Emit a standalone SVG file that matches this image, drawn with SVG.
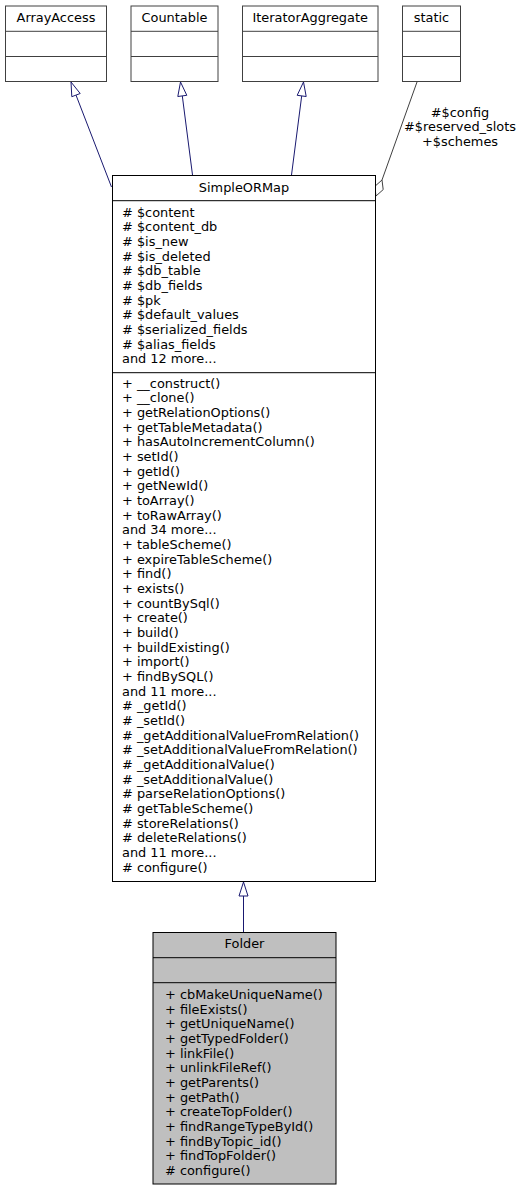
<svg xmlns="http://www.w3.org/2000/svg" width="529" height="1191" viewBox="0 0 529 1191">
<style>
text{font-family:"DejaVu Sans",sans-serif;font-size:12.9px;fill:#000}
.c{text-anchor:middle}
.box{fill:#fff;stroke:#404040;stroke-width:1}
.main{fill:#fff;stroke:#000;stroke-width:1}
.sel{fill:#bfbfbf;stroke:#000;stroke-width:1}
.sep{stroke:#000;stroke-width:1}
.sepg{stroke:#404040;stroke-width:1}
.inh{stroke:#191970;stroke-width:1;fill:none}
.head{fill:#fff;stroke:#191970;stroke-width:1}
.agg{stroke:#404040;stroke-width:1;fill:none}
</style>
<rect width="529" height="1191" fill="#fff"/>
<g id="connectors">
  <line class="inh" x1="76" y1="95.1" x2="111.5" y2="187"/>
  <polygon class="head" points="71,82 80.2,93.5 71.8,96.7"/>
  <line class="inh" x1="182.3" y1="95.9" x2="192.5" y2="175"/>
  <polygon class="head" points="180.5,82 186.8,95.3 177.8,96.5"/>
  <line class="inh" x1="301.7" y1="95.9" x2="291.5" y2="175"/>
  <polygon class="head" points="303.5,82 306.2,96.5 297.2,95.3"/>
  <line class="agg" x1="417" y1="82" x2="382" y2="180"/>
  <polygon class="agg" points="376,196 374.8,186.4 382,180 383.2,189.6" style="fill:#fff"/>
  <text class="c" x="460" y="116.7">#$config</text>
  <text class="c" x="460" y="131.4">#$reserved_slots</text>
  <text class="c" x="460" y="146.1">+$schemes</text>
  <line class="inh" x1="243.5" y1="896" x2="243.5" y2="932.5"/>
  <polygon class="head" points="243.5,882 248,896 239,896"/>
</g>
<g id="ArrayAccess">
  <rect class="box" x="5.5" y="6" width="101" height="75.5"/>
  <line class="sepg" x1="5.5" y1="31.3" x2="106.5" y2="31.3"/>
  <line class="sepg" x1="5.5" y1="56.5" x2="106.5" y2="56.5"/>
  <text class="c" x="56" y="21.7">ArrayAccess</text>
</g>
<g id="Countable">
  <rect class="box" x="131" y="6" width="87" height="75.5"/>
  <line class="sepg" x1="131" y1="31.3" x2="218" y2="31.3"/>
  <line class="sepg" x1="131" y1="56.5" x2="218" y2="56.5"/>
  <text class="c" x="174.5" y="21.7">Countable</text>
</g>
<g id="IteratorAggregate">
  <rect class="box" x="242.5" y="6" width="135.5" height="75.5"/>
  <line class="sepg" x1="242.5" y1="31.3" x2="378" y2="31.3"/>
  <line class="sepg" x1="242.5" y1="56.5" x2="378" y2="56.5"/>
  <text class="c" x="310.2" y="21.7">IteratorAggregate</text>
</g>
<g id="static">
  <rect class="box" x="402.5" y="6" width="58" height="75.5"/>
  <line class="sepg" x1="402.5" y1="31.3" x2="460.5" y2="31.3"/>
  <line class="sepg" x1="402.5" y1="56.5" x2="460.5" y2="56.5"/>
  <text class="c" x="431.5" y="21.7">static</text>
</g>
<g id="SimpleORMap">
  <rect class="main" x="112.5" y="175.5" width="263" height="706"/>
  <line class="sep" x1="112.5" y1="200.7" x2="375.5" y2="200.7"/>
  <line class="sep" x1="112.5" y1="372.7" x2="375.5" y2="372.7"/>
  <text class="c" x="244" y="191.7">SimpleORMap</text>
  <text x="122" y="216.7"><tspan x="122"># $content</tspan><tspan x="122" dy="14.67"># $content_db</tspan><tspan x="122" dy="14.67"># $is_new</tspan><tspan x="122" dy="14.67"># $is_deleted</tspan><tspan x="122" dy="14.67"># $db_table</tspan><tspan x="122" dy="14.67"># $db_fields</tspan><tspan x="122" dy="14.67"># $pk</tspan><tspan x="122" dy="14.67"># $default_values</tspan><tspan x="122" dy="14.67"># $serialized_fields</tspan><tspan x="122" dy="14.67"># $alias_fields</tspan><tspan x="122" dy="14.67">and 12 more...</tspan></text>
  <text x="122" y="387.7"><tspan x="122">+ __construct()</tspan><tspan x="122" dy="14.67">+ __clone()</tspan><tspan x="122" dy="14.67">+ getRelationOptions()</tspan><tspan x="122" dy="14.67">+ getTableMetadata()</tspan><tspan x="122" dy="14.67">+ hasAutoIncrementColumn()</tspan><tspan x="122" dy="14.67">+ setId()</tspan><tspan x="122" dy="14.67">+ getId()</tspan><tspan x="122" dy="14.67">+ getNewId()</tspan><tspan x="122" dy="14.67">+ toArray()</tspan><tspan x="122" dy="14.67">+ toRawArray()</tspan><tspan x="122" dy="14.67">and 34 more...</tspan><tspan x="122" dy="14.67">+ tableScheme()</tspan><tspan x="122" dy="14.67">+ expireTableScheme()</tspan><tspan x="122" dy="14.67">+ find()</tspan><tspan x="122" dy="14.67">+ exists()</tspan><tspan x="122" dy="14.67">+ countBySql()</tspan><tspan x="122" dy="14.67">+ create()</tspan><tspan x="122" dy="14.67">+ build()</tspan><tspan x="122" dy="14.67">+ buildExisting()</tspan><tspan x="122" dy="14.67">+ import()</tspan><tspan x="122" dy="14.67">+ findBySQL()</tspan><tspan x="122" dy="14.67">and 11 more...</tspan><tspan x="122" dy="14.67"># _getId()</tspan><tspan x="122" dy="14.67"># _setId()</tspan><tspan x="122" dy="14.67"># _getAdditionalValueFromRelation()</tspan><tspan x="122" dy="14.67"># _setAdditionalValueFromRelation()</tspan><tspan x="122" dy="14.67"># _getAdditionalValue()</tspan><tspan x="122" dy="14.67"># _setAdditionalValue()</tspan><tspan x="122" dy="14.67"># parseRelationOptions()</tspan><tspan x="122" dy="14.67"># getTableScheme()</tspan><tspan x="122" dy="14.67"># storeRelations()</tspan><tspan x="122" dy="14.67"># deleteRelations()</tspan><tspan x="122" dy="14.67">and 11 more...</tspan><tspan x="122" dy="14.67"># configure()</tspan></text>
</g>
<g id="Folder">
  <rect class="sel" x="153" y="932.5" width="183" height="251.5"/>
  <line class="sep" x1="153" y1="957.7" x2="336" y2="957.7"/>
  <line class="sep" x1="153" y1="982.7" x2="336" y2="982.7"/>
  <text class="c" x="244.5" y="948.3">Folder</text>
  <text x="165" y="999"><tspan x="165">+ cbMakeUniqueName()</tspan><tspan x="165" dy="14.67">+ fileExists()</tspan><tspan x="165" dy="14.67">+ getUniqueName()</tspan><tspan x="165" dy="14.67">+ getTypedFolder()</tspan><tspan x="165" dy="14.67">+ linkFile()</tspan><tspan x="165" dy="14.67">+ unlinkFileRef()</tspan><tspan x="165" dy="14.67">+ getParents()</tspan><tspan x="165" dy="14.67">+ getPath()</tspan><tspan x="165" dy="14.67">+ createTopFolder()</tspan><tspan x="165" dy="14.67">+ findRangeTypeById()</tspan><tspan x="165" dy="14.67">+ findByTopic_id()</tspan><tspan x="165" dy="14.67">+ findTopFolder()</tspan><tspan x="165" dy="14.67"># configure()</tspan></text>
</g>
</svg>
